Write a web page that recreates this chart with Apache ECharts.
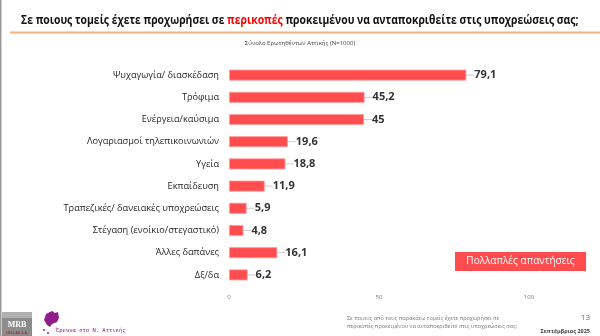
<!DOCTYPE html>
<html><head><meta charset="utf-8">
<script src="https://cdn.jsdelivr.net/npm/echarts@6/dist/echarts.min.js"></script>
<style>html,body{margin:0;padding:0;background:#fff}#c{width:600px;height:336px}</style>
</head><body><div id="c"></div>
<script>
const categories = ["Ψυχαγωγία/ διασκέδαση","Τρόφιμα","Ενέργεια/καύσιμα","Λογαριασμοί τηλεπικοινωνιών","Υγεία","Εκπαίδευση","Τραπεζικές/ δανειακές υποχρεώσεις","Στέγαση (ενοίκιο/στεγαστικό)","Άλλες δαπάνες","Δξ/δα"];
const values = [79.1,45.2,45,19.6,18.8,11.9,5.9,4.8,16.1,6.2];
const labels = ["79,1","45,2","45","19,6","18,8","11,9","5,9","4,8","16,1","6,2"];
const xTicks = [0,50,100];

const chart = echarts.init(document.getElementById('c'));
const F = '"Open Sans", "Noto Sans", sans-serif';
chart.setOption({
  animation:false,
  grid:{left:229,right:71,top:64,bottom:50},
  xAxis:{type:'value',min:0,max:100,interval:50,
    axisLine:{show:false},axisTick:{show:false},splitLine:{show:false},
    axisLabel:{fontSize:6,color:'#777',fontFamily:F,margin:8,formatter:v=>xTicks.includes(v)?String(v):''}},
  yAxis:{type:'category',data:categories,inverse:true,
    axisLine:{show:false},axisTick:{show:false},
    axisLabel:{fontSize:9.2,color:'#262626',fontFamily:F,margin:10}},
  series:[{type:'bar',data:values,barWidth:11,
    itemStyle:{color:'#ff4d4f',borderColor:'#ffa0a0',borderWidth:0.8},
    label:{show:true,position:'right',distance:2,fontSize:11,fontWeight:'bold',color:'#333',fontFamily:F,
      formatter:p=>labels[p.dataIndex]},
    labelLayout:{dx:6},
    labelLine:{show:true,lineStyle:{color:'#ccc',width:1}}
  }],
  graphic:[
    {type:'rect',shape:{x:0,y:0,width:1.5,height:336},style:{fill:'#999'}},
    {type:'text',x:21,y:20,scaleX:0.845,style:{
      text:'{b|Σε ποιους τομείς έχετε προχωρήσει σε }{r|περικοπές}{b| προκειμένου να ανταποκριθείτε στις υποχρεώσεις σας;}',
      verticalAlign:'middle',
      rich:{b:{fontSize:12.3,fontWeight:'bold',fill:'#111',fontFamily:F},r:{fontSize:12.3,fontWeight:'bold',fill:'#f00',fontFamily:F}}}},
    {type:'rect',shape:{x:10,y:31.5,width:590,height:2},style:{fill:'#f4b183'}},
    {type:'text',x:300,y:43,style:{text:'Σύνολο Ερωτηθέντων Αττικής (N=1000)',fontSize:6,fill:'#444',fontFamily:F,align:'center',verticalAlign:'middle'}},
    {type:'rect',shape:{x:455,y:252,width:131,height:19},style:{fill:'#ff4d4f'}},
    {type:'text',x:520.5,y:261.5,style:{text:'Πολλαπλές απαντήσεις',fontSize:10,fill:'#fff',fontFamily:F,align:'center',verticalAlign:'middle'}},
    {type:'text',x:347,y:314,style:{text:'Σε ποιους από τους παρακάτω τομείς έχετε προχωρήσει σε\nπερικοπές προκειμένου να ανταποκριθείτε στις υποχρεώσεις σας;',fontSize:5.5,lineHeight:8,fill:'#777',fontFamily:F}},
    {type:'text',x:590,y:318,style:{text:'13',fontSize:8,fill:'#666',fontFamily:F,align:'right',verticalAlign:'middle'}},
    {type:'text',x:590,y:331,style:{text:'Σεπτέμβριος 2025',fontSize:5.5,fontWeight:'bold',fill:'#444',fontFamily:F,align:'right',verticalAlign:'middle'}},
    {type:'rect',shape:{x:2,y:312,width:30,height:24},style:{fill:'#8c8c8c'}},
    {type:'rect',shape:{x:2,y:312,width:30,height:6},style:{fill:'#b0b0b0'}},
    {type:'text',x:17,y:325,style:{text:'MRB',fontSize:8,fontWeight:'bold',fill:'#fff',fontFamily:'"Liberation Serif", serif',align:'center',verticalAlign:'middle'}},
    {type:'text',x:17,y:333,style:{text:'HELLAS S.A.',fontSize:4,fill:'#c00',fontFamily:F,align:'center',verticalAlign:'middle'}},
    {type:'polygon',shape:{points:[[46,314],[52,311],[55,313],[58,312],[59,318],[57,322],[52,324],[50,327],[47,325],[44,320]]},style:{fill:'#8e1f8a'}},
    {type:'circle',shape:{cx:44,cy:330,r:1},style:{fill:'#8e1f8a'}},
    {type:'circle',shape:{cx:48,cy:333,r:1},style:{fill:'#8e1f8a'}},
    {type:'text',x:56,y:331,style:{text:'Έρευνα στο Ν. Αττικής',fontSize:5.5,fill:'#8e1f8a',fontFamily:'"DejaVu Sans Mono", monospace',verticalAlign:'middle'}}
  ]
});
</script></body></html>
